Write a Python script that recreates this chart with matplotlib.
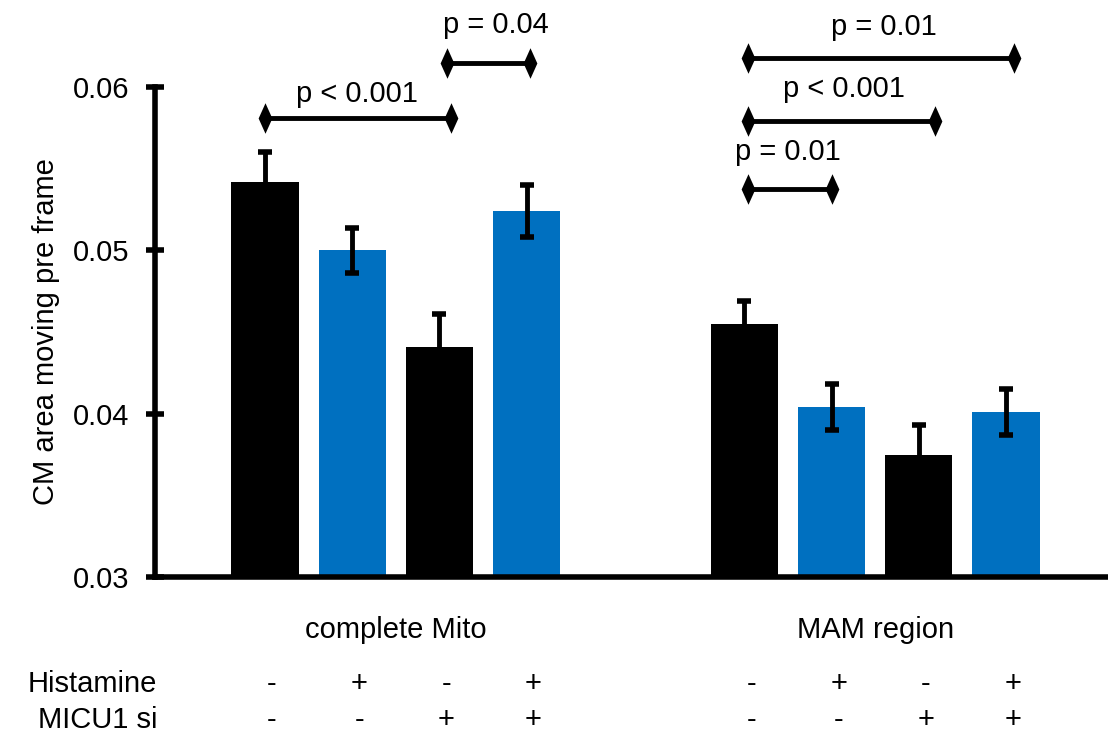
"""Bar chart of CM area moving per frame, with significance brackets."""

import matplotlib
matplotlib.use("Agg")
import matplotlib.pyplot as plt
import matplotlib.transforms as mtransforms
from matplotlib.path import Path

# --- data -------------------------------------------------------------
groups = ["complete Mito", "MAM region"]
positions = [0, 1, 2, 3, 5.5, 6.5, 7.5, 8.5]
means = [0.0542, 0.0500, 0.0441, 0.0524, 0.0455, 0.0404, 0.0375, 0.0401]
errors = [0.0018, 0.0014, 0.0020, 0.0016, 0.0014, 0.0014, 0.0018, 0.0014]
bar_colors = ["black", "#0070C0", "black", "#0070C0",
              "black", "#0070C0", "black", "#0070C0"]
histamine = ["-", "+", "-", "+", "-", "+", "-", "+"]
micu1_si = ["-", "-", "+", "+", "-", "-", "+", "+"]
yticks = [0.03, 0.04, 0.05, 0.06]

# significance brackets: (x start, x end, y, label, label x, label y)
brackets = [
    (0.0, 2.13, 0.0581, "p < 0.001", 1.06, 0.0596),
    (2.09, 3.04, 0.06147, "p = 0.04", 2.65, 0.0638),
    (5.54, 8.59, 0.06178, "p = 0.01", 7.10, 0.0637),
    (5.54, 7.68, 0.05792, "p < 0.001", 6.64, 0.0599),
    (5.54, 6.50, 0.05375, "p = 0.01", 6.00, 0.0560),
]

plt.rcParams["font.family"] = ["Liberation Sans", "DejaVu Sans"]
FS = 21

# narrow, tall diamond for the bracket ends
diamond = Path([(0, -1), (0.45, 0), (0, 1), (-0.45, 0), (0, -1)],
               [Path.MOVETO, Path.LINETO, Path.LINETO, Path.LINETO,
                Path.CLOSEPOLY])

fig = plt.figure(figsize=(11.08, 7.37), dpi=100)
ax = fig.add_axes([0.14, 0.217, 0.86, 0.783])

ax.bar(positions, means, width=0.77, color=bar_colors, zorder=2)
ax.errorbar(positions, means, yerr=errors, fmt="none", ecolor="black",
            elinewidth=3.5, capsize=4.7, capthick=4, zorder=3)

for x1, x2, y, label, lx, ly in brackets:
    ax.plot([x1, x2], [y, y], color="black", lw=3.5, marker=diamond,
            markersize=22, markeredgewidth=0, clip_on=False, zorder=4)
    ax.text(lx, ly, label, ha="center", va="center", fontsize=FS)

ax.set_xlim(-1.26, 9.67)
ax.set_ylim(0.03, 0.06533)
ax.set_yticks(yticks)
ax.set_yticklabels([f"{t:.2f}" for t in yticks], fontsize=FS)
ax.set_xticks([])
ax.set_ylabel("CM area moving pre frame", fontsize=FS)
ax.yaxis.set_label_coords(-0.1, 0.4246)

for side in ("top", "right"):
    ax.spines[side].set_visible(False)
ax.spines["left"].set_linewidth(4)
ax.spines["bottom"].set_linewidth(4)
ax.spines["left"].set_bounds(0.03, 0.06)
ax.tick_params(axis="y", direction="inout", length=13, width=4, pad=12)

# labels below the axis
trans = mtransforms.blended_transform_factory(ax.transData, fig.transFigure)
ax.text(sum(positions[:4]) / 4, 0.145, groups[0], transform=trans,
        ha="center", va="center", fontsize=FS)
ax.text(sum(positions[4:]) / 4, 0.145, groups[1], transform=trans,
        ha="center", va="center", fontsize=FS)
for x, h, m in zip(positions, histamine, micu1_si):
    ax.text(x + 0.08, 0.072, h, transform=trans, ha="center", va="center",
            fontsize=FS)
    ax.text(x + 0.08, 0.023, m, transform=trans, ha="center", va="center",
            fontsize=FS)
fig.text(0.142, 0.072, "Histamine", ha="right", va="center", fontsize=FS)
fig.text(0.142, 0.023, "MICU1 si", ha="right", va="center", fontsize=FS)

fig.savefig("out.png", dpi=100)
